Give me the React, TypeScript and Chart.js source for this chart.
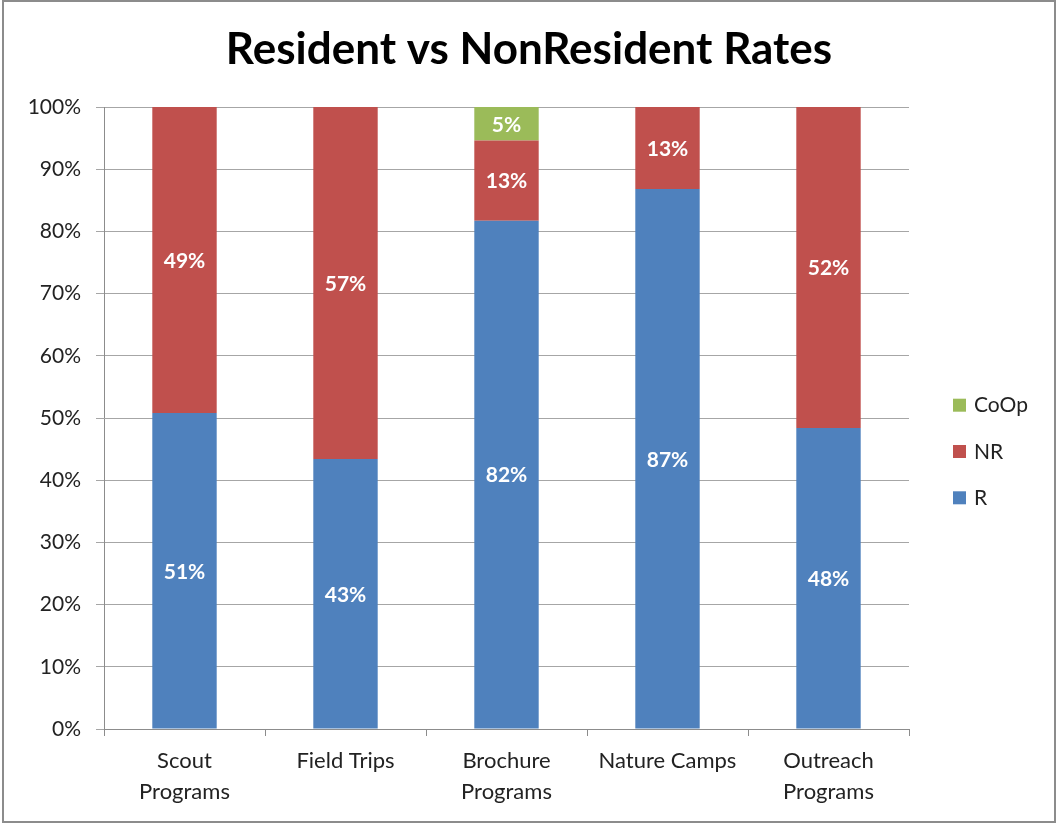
import React, { useEffect, useRef } from "react";
import { Chart, registerables } from "chart.js";

Chart.register(...registerables);

const chartTitle = "Resident vs NonResident Rates";
const categories: (string | string[])[] = [
  ["Scout", "Programs"],
  "Field Trips",
  ["Brochure", "Programs"],
  "Nature Camps",
  ["Outreach", "Programs"],
];
const residentR = [50.8, 43.4, 81.7, 86.8, 48.4];
const nonResidentNR = [49.2, 56.6, 12.9, 13.2, 51.6];
const coOp = [0, 0, 5.4, 0, 0];
const yTicks = [0, 10, 20, 30, 40, 50, 60, 70, 80, 90, 100];

const FONT = "Lato, 'Open Sans', sans-serif";

const dataLabels = {
  id: "dataLabels",
  afterDatasetsDraw(chart: any) {
    const ctx = chart.ctx;
    ctx.save();
    ctx.font = `bold 21px ${FONT}`;
    ctx.fillStyle = "#ffffff";
    ctx.textAlign = "center";
    ctx.textBaseline = "middle";
    chart.data.datasets.forEach((ds: any, di: number) => {
      const meta = chart.getDatasetMeta(di);
      meta.data.forEach((el: any, i: number) => {
        const v = ds.data[i];
        if (!v) return;
        const p = el.getCenterPoint();
        ctx.fillText(Math.round(v) + "%", p.x, p.y + 1);
      });
    });
    ctx.restore();
  },
};

const titleAndLegend = {
  id: "titleAndLegend",
  afterDraw(chart: any) {
    const ctx = chart.ctx;
    const area = chart.chartArea;
    ctx.save();
    // title centered on the whole canvas
    ctx.font = `bold 44px ${FONT}`;
    ctx.fillStyle = "#000";
    ctx.textAlign = "center";
    ctx.textBaseline = "alphabetic";
    ctx.fillText(chartTitle, chart.width / 2, 62);
    // legend (reversed order)
    const items = chart.data.datasets.slice().reverse();
    const spacing = 46.3;
    const cy = (area.top + area.bottom) / 2 + 34;
    const x0 = area.right + 44;
    ctx.font = `21px ${FONT}`;
    ctx.textBaseline = "middle";
    ctx.textAlign = "left";
    items.forEach((ds: any, i: number) => {
      const y = cy + (i - (items.length - 1) / 2) * spacing;
      ctx.fillStyle = ds.backgroundColor;
      ctx.fillRect(x0, y - 7, 13, 13);
      ctx.fillStyle = "#222";
      ctx.fillText(ds.label, x0 + 21, y);
    });
    ctx.restore();
  },
};

export default function App() {
  const ref = useRef<HTMLCanvasElement | null>(null);
  useEffect(() => {
    if (!ref.current) return;
    const chart = new Chart(ref.current, {
      type: "bar",
      data: {
        labels: categories,
        datasets: [
          { label: "R", data: residentR, backgroundColor: "#4F81BD" },
          { label: "NR", data: nonResidentNR, backgroundColor: "#C0504D" },
          { label: "CoOp", data: coOp, backgroundColor: "#9BBB59" },
        ],
      },
      options: {
        responsive: false,
        animation: false,
        events: [],
        layout: { padding: { top: 105, right: 145, bottom: 0, left: 0 } },
        datasets: { bar: { categoryPercentage: 1, barPercentage: 0.4 } },
        plugins: {
          legend: { display: false },
          tooltip: { enabled: false },
          title: { display: false },
        },
        scales: {
          x: {
            stacked: true,
            grid: {
              drawOnChartArea: false,
              offset: true,
              color: "#8c8c8c",
              tickLength: 7,
            },
            border: { color: "#8c8c8c" },
            ticks: {
              color: "#222",
              font: { family: FONT, size: 22, lineHeight: 1.4 },
              padding: 10,
              maxRotation: 0,
              autoSkip: false,
            },
            afterFit(scale: any) {
              scale.height = 92;
            },
          },
          y: {
            stacked: true,
            min: 0,
            max: 100,
            afterBuildTicks(scale: any) {
              scale.ticks = yTicks.map((v) => ({ value: v }));
            },
            grid: { color: "#a6a6a6", tickLength: 8 },
            border: { color: "#8c8c8c" },
            ticks: {
              color: "#222",
              font: { family: FONT, size: 21 },
              padding: 15,
              callback: (v: any) => v + "%",
            },
            afterFit(scale: any) {
              scale.width = 100;
            },
          },
        },
      },
      plugins: [dataLabels, titleAndLegend],
    } as any);
    return () => chart.destroy();
  }, []);

  return (
    <div
      style={{
        position: "absolute",
        left: 2,
        top: 0,
        width: 1054,
        height: 823,
        border: "2px solid #8c8c8c",
        boxSizing: "border-box",
        background: "#fff",
      }}
    >
      <canvas ref={ref} width={1050} height={819} style={{ display: "block" }} />
    </div>
  );
}
